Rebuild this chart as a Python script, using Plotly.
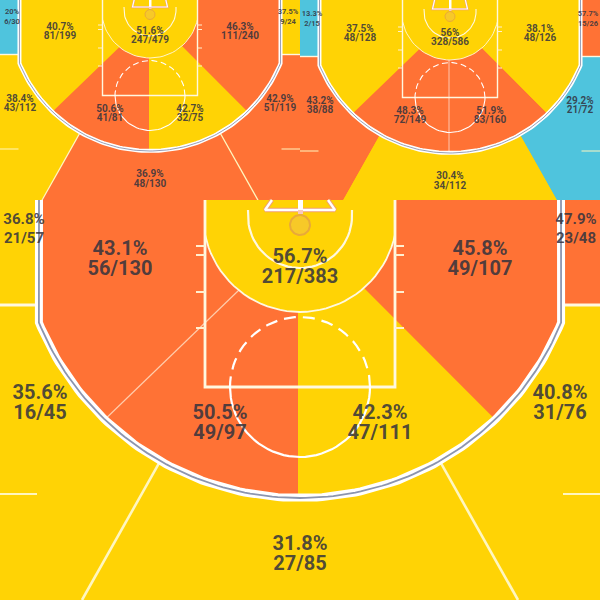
import math
import plotly.graph_objects as go

# ---------- data: zone order is shared by all three courts ----------
ZONES = ["corner_l", "wing_l", "mid_l", "paint", "low_l", "low_r", "mid_r", "wing_r", "corner_r", "top"]

LEFT_PCT = ["20%", "38.4%", "40.7%", "51.6%", "50.6%", "42.7%", "46.3%", "42.9%", "37.5%", "36.9%"]
LEFT_SHOTS = ["6/30", "43/112", "81/199", "247/479", "41/81", "32/75", "111/240", "51/119", "9/24", "48/130"]

RIGHT_PCT = ["13.3%", "43.2%", "37.5%", "56%", "48.3%", "51.9%", "38.1%", "29.2%", "57.7%", "30.4%"]
RIGHT_SHOTS = ["2/15", "38/88", "48/128", "328/586", "72/149", "83/160", "48/126", "21/72", "15/26", "34/112"]

MAIN_PCT = ["36.8%", "35.6%", "43.1%", "56.7%", "50.5%", "42.3%", "45.8%", "40.8%", "47.9%", "31.8%"]
MAIN_SHOTS = ["21/57", "16/45", "56/130", "217/383", "49/97", "47/111", "49/107", "31/76", "23/48", "27/85"]

# ---------- styles ----------
Y, O, C = "#FFD305", "#FF7235", "#4FC4DD"
LEFT_COL = [C, Y, Y, Y, O, Y, O, O, Y, O]
RIGHT_COL = [C, O, Y, Y, O, O, Y, C, O, Y]
MAIN_COL = [Y, Y, O, Y, O, Y, O, Y, O, Y]
TXT = "rgba(50,50,62,0.86)"
WHITE = "#FFFFFF"
THIN = "rgba(255,255,255,0.6)"

# ---------- court geometry, local units (main court pixels from the baseline centre) ----------
R3, C3 = 282, 16
RP, CP = 97, 15
SIDE = 261
A_SIDE = 67.8
A_DIV = 29.7
A_DIAG = 43.8
EDGE = 300
CORNER_V = 105
FAR_V = 400
FAR_U = 218
KEY_U, KEY_V = 95, 187
DIAG_L, DIAG_R = (-61, 90), (64, 88)
SPLIT_U = -2


def arc(cv, r, a0, a1, n=40):
    pts = []
    for i in range(n + 1):
        a = math.radians(a0 + (a1 - a0) * i / n)
        pts.append((r * math.sin(a), cv + r * math.cos(a)))
    return pts


def zone_polys(top):
    a_pl = math.degrees(math.atan2(DIAG_L[0], DIAG_L[1] - CP))
    a_pr = math.degrees(math.atan2(DIAG_R[0], DIAG_R[1] - CP))
    a_key = math.degrees(math.asin(KEY_U / RP))
    paint_edge = arc(CP, RP, -a_key, a_key)
    return {
        "corner_l": [(-EDGE, top), (-SIDE, top), (-SIDE, CORNER_V), (-EDGE, CORNER_V)],
        "corner_r": [(EDGE, top), (SIDE, top), (SIDE, CORNER_V), (EDGE, CORNER_V)],
        "wing_l": [(-EDGE, CORNER_V), (-SIDE, CORNER_V)] + arc(C3, R3, -A_SIDE, -A_DIV)
                  + [(-FAR_U, FAR_V), (-EDGE, FAR_V)],
        "wing_r": [(EDGE, CORNER_V), (SIDE, CORNER_V)] + arc(C3, R3, A_SIDE, A_DIV)
                  + [(FAR_U, FAR_V), (EDGE, FAR_V)],
        "top": arc(C3, R3, -A_DIV, A_DIV) + [(FAR_U, FAR_V), (-FAR_U, FAR_V)],
        "mid_l": [(-SIDE, top)] + arc(C3, R3, -A_SIDE, -A_DIAG) + [DIAG_L]
                 + arc(CP, RP, a_pl, -a_key) + [(-KEY_U, top)],
        "mid_r": [(SIDE, top)] + arc(C3, R3, A_SIDE, A_DIAG) + [DIAG_R]
                 + arc(CP, RP, a_pr, a_key) + [(KEY_U, top)],
        "low_l": arc(C3, R3, -A_DIAG, 0) + [(SPLIT_U, C3 + R3), (SPLIT_U, CP + RP)]
                 + arc(CP, RP, 0, a_pl) + [DIAG_L],
        "low_r": arc(C3, R3, A_DIAG, 0) + [(SPLIT_U, C3 + R3), (SPLIT_U, CP + RP)]
                 + arc(CP, RP, 0, a_pr) + [DIAG_R],
        "paint": [(-KEY_U, top)] + paint_edge + [(KEY_U, top)],
    }


LABEL_AT = {
    "corner_l": (-276, 20), "wing_l": (-260, 194), "mid_l": (-180, 50),
    "paint": (0, 58), "low_l": (-80, 214), "low_r": (80, 214),
    "mid_r": (180, 50), "wing_r": (260, 194), "corner_r": (276, 20), "top": (0, 345),
}
LINE_GAP = 19.5

fig = go.Figure()


def draw_court(cx, cy, s, pct, shots, cols, top, outer_div, diag_l, split):
    def X(pts):
        return [cx + s * p[0] for p in pts]

    def Yv(pts):
        return [cy + s * p[1] for p in pts]

    def poly(pts, col):
        fig.add_trace(go.Scatter(x=X(pts), y=Yv(pts), mode="lines", fill="toself", fillcolor=col,
                                 line=dict(width=0, color=col), hoverinfo="skip"))

    def line(pts, col, w, dash=None):
        fig.add_trace(go.Scatter(x=X(pts), y=Yv(pts), mode="lines",
                                 line=dict(color=col, width=w, dash=dash), hoverinfo="skip"))

    polys = zone_polys(top)
    for z, col in zip(ZONES, cols):
        poly(polys[z], col)

    # zone dividers
    if outer_div:
        for sgn in (-1, 1):
            a = math.radians(A_DIV)
            line([(sgn * R3 * math.sin(a), C3 + R3 * math.cos(a)), (sgn * FAR_U, FAR_V)], "#FFF6C0", 2.6 * s)
    if diag_l:
        a = math.radians(A_DIAG)
        line([DIAG_L, (-R3 * math.sin(a), C3 + R3 * math.cos(a))], THIN, 1.2)
    if split:
        line([(SPLIT_U, CP + RP), (SPLIT_U, C3 + R3)], THIN, 1.0)

    # corner boundaries and hash marks
    for sgn in (-1, 1):
        line([(sgn * EDGE, CORNER_V), (sgn * (SIDE + 2), CORNER_V)], "#FFF8E0", 2.8 * s)
        line([(sgn * EDGE, 294), (sgn * (SIDE + 2), 294)], "#FFF6C0", 2 * s)

    # three point line: white band with a grey core
    path = [(-SIDE, top)] + arc(C3, R3, -A_SIDE, A_SIDE, 120) + [(SIDE, top)]
    line(path, WHITE, 8 * s)
    line(path, "rgba(120,130,160,0.85)", 1.8 * s)

    # key, paint arc, hash marks
    line([(-KEY_U, top), (-KEY_U, KEY_V), (KEY_U, KEY_V), (KEY_U, top)], "#FFF8E0", 2.8 * s)
    a_key = math.degrees(math.asin(KEY_U / RP))
    line(arc(CP, RP, -a_key, a_key), "#FFF8E0", 1.8 * s)
    for v in (46, 55, 92, 128):
        for sgn in (-1, 1):
            line([(sgn * KEY_U, v), (sgn * (KEY_U + 9), v)], "#FFF0D0", 2 * s)

    # free throw circle
    line(arc(KEY_V, 70, -90, 90), WHITE, 2.2 * s)
    line(arc(KEY_V, 70, 90, 270), WHITE, 2.2 * s, dash="%gpx,%gpx" % (12 * s, 7 * s))

    # restricted arc
    line([(-52, 10)] + arc(C3, 52, -90, 90) + [(52, 10)], "#FFF8E0", 2.2 * s)

    # backboard and rim
    frame = [(-28, top), (-35, 10), (35, 10), (28, top)]
    line(frame, "#F0A070", 4.5 * s)
    line(frame, "#FFFFFF", 2.4 * s)
    line([(0.5, top), (0.5, 10)], WHITE, 5 * s)
    line([(0.5, 10), (0.5, 14)], "#F8C8C0", 5 * s)
    rim = arc(25, 10, 0, 360, 48)
    fig.add_trace(go.Scatter(x=X(rim), y=Yv(rim), mode="lines", fill="toself", fillcolor="#F7C928",
                             line=dict(color="#E9A93A", width=2 * s), hoverinfo="skip"))

    # labels
    for z, p, sh in zip(ZONES, pct, shots):
        u, v = LABEL_AT[z]
        small = z.startswith("corner")
        size = (15 if small else 20) * s
        fig.add_trace(go.Scatter(
            x=[cx + s * u, cx + s * u], y=[cy + s * v, cy + s * (v + LINE_GAP)],
            mode="text", text=["<b>%s</b>" % p, "<b>%s</b>" % sh], textposition="middle center",
            textfont=dict(family="Roboto", size=size, color=TXT), hoverinfo="skip"))


draw_court(150, 2, 0.5, LEFT_PCT, LEFT_SHOTS, LEFT_COL, -20, True, False, False)
draw_court(450, 4, 0.5, RIGHT_PCT, RIGHT_SHOTS, RIGHT_COL, -20, False, False, True)
draw_court(300, 200, 1.0, MAIN_PCT, MAIN_SHOTS, MAIN_COL, 0, True, True, False)

fig.update_layout(
    width=600, height=600, margin=dict(l=0, r=0, t=0, b=0), showlegend=False,
    paper_bgcolor=Y, plot_bgcolor=Y,
    xaxis=dict(range=[0, 600], visible=False, fixedrange=True),
    yaxis=dict(range=[600, 0], visible=False, fixedrange=True),
)
fig.write_html("out.html", config={"displayModeBar": False},
               post_script="document.body.style.margin='0';document.body.style.overflow='hidden';")
